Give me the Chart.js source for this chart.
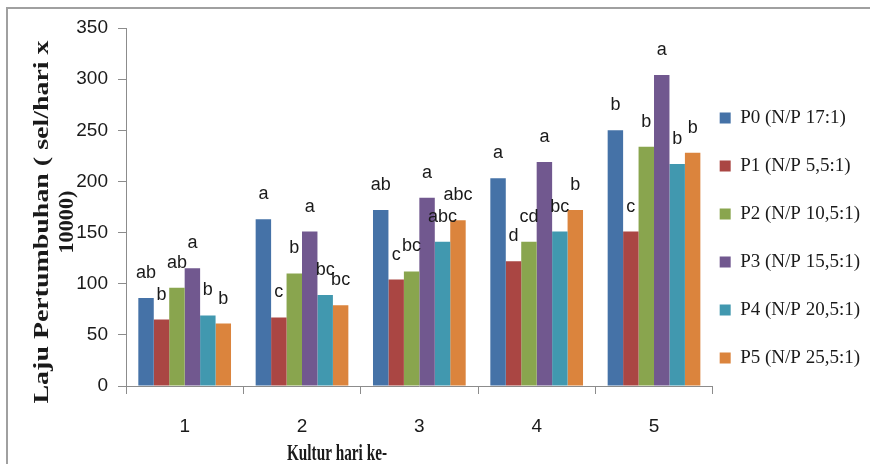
<!DOCTYPE html>
<html>
<head>
<meta charset="utf-8">
<script src="https://cdn.jsdelivr.net/npm/chart.js@4/dist/chart.umd.min.js"></script>
<style>
html,body{margin:0;padding:0;background:#fff;}
#wrap{width:870px;height:464px;position:relative;}
canvas{display:block;}
</style>
</head>
<body>
<div id="wrap"><canvas id="c" width="870" height="464"></canvas></div>
<script>
// ---- data ----
const categories = ['1', '2', '3', '4', '5'];
const seriesNames = ['P0 (N/P 17:1)', 'P1 (N/P 5,5:1)', 'P2 (N/P 10,5:1)', 'P3 (N/P 15,5:1)', 'P4 (N/P 20,5:1)', 'P5 (N/P 25,5:1)'];
const p0Values = [86, 163, 172, 203, 250];
const p1Values = [65, 67, 104, 122, 151];
const p2Values = [96, 110, 112, 141, 234];
const p3Values = [115, 151, 184, 219, 304];
const p4Values = [69, 89, 141, 151, 217];
const p5Values = [61, 79, 162, 172, 228];
const p0Letters = ['ab', 'a', 'ab', 'a', 'b'];
const p1Letters = ['b', 'c', 'c', 'd', 'c'];
const p2Letters = ['ab', 'b', 'bc', 'cd', 'b'];
const p3Letters = ['a', 'a', 'a', 'a', 'a'];
const p4Letters = ['b', 'bc', 'abc', 'bc', 'b'];
const p5Letters = ['b', 'bc', 'abc', 'b', 'b'];
const yTickValues = [0, 50, 100, 150, 200, 250, 300, 350];
const yTitleLines = ['Laju Pertumbuhan ( sel/hari x', '10000)'];
const xTitle = 'Kultur hari ke-';

// ---- styles ----
const colors = ['#4572A7', '#AA4643', '#89A54E', '#71588F', '#4198AF', '#DB843D'];
const seriesValues = [p0Values, p1Values, p2Values, p3Values, p4Values, p5Values];
const seriesLetters = [p0Letters, p1Letters, p2Letters, p3Letters, p4Letters, p5Letters];
const narrow = "'Liberation Sans Narrow', 'Liberation Sans', Arial, sans-serif";
const serif = "'Liberation Serif', 'Times New Roman', serif";
const axisColor = '#8c8c8c';
const textColor = '#1a1a1a';

const datasets = seriesNames.map((name, i) => ({
  label: name,
  data: seriesValues[i],
  backgroundColor: colors[i],
  borderWidth: 0,
  letters: seriesLetters[i],
  categoryPercentage: 0.79,
  barPercentage: 1.0
}));

const framePlugin = {
  id: 'frame',
  beforeDraw(chart) {
    const ctx = chart.ctx;
    ctx.save();
    ctx.fillStyle = '#ffffff';
    ctx.fillRect(0, 0, chart.width, chart.height);
    ctx.strokeStyle = '#a0a0a0';
    ctx.lineWidth = 2;
    ctx.beginPath();
    ctx.moveTo(7, chart.height);
    ctx.lineTo(7, 8);
    ctx.lineTo(chart.width, 8);
    ctx.stroke();
    ctx.restore();
  }
};

const lettersPlugin = {
  id: 'letters',
  afterDatasetsDraw(chart) {
    const ctx = chart.ctx;
    ctx.save();
    ctx.font = '18px ' + narrow;
    ctx.fillStyle = textColor;
    ctx.textAlign = 'center';
    ctx.textBaseline = 'alphabetic';
    chart.data.datasets.forEach((ds, di) => {
      const meta = chart.getDatasetMeta(di);
      meta.data.forEach((bar, j) => {
        ctx.fillText(ds.letters[j], bar.x, bar.y - 20);
      });
    });
    ctx.restore();
  }
};

const titlesPlugin = {
  id: 'titles',
  afterDraw(chart) {
    const ctx = chart.ctx;
    const ca = chart.chartArea;
    ctx.save();
    ctx.fillStyle = textColor;
    ctx.font = 'bold 22px ' + serif;
    ctx.textAlign = 'center';
    ctx.textBaseline = 'alphabetic';
    // y title (rotated, two lines)
    const yc = (ca.top + ca.bottom) / 2 + 15;
    const lineTargets = [363, 63];
    const lineX = [48, 73];
    yTitleLines.forEach((t, i) => {
      ctx.save();
      ctx.translate(lineX[i], yc);
      ctx.rotate(-Math.PI / 2);
      const w = ctx.measureText(t).width;
      ctx.scale(lineTargets[i] / w, 1);
      ctx.fillText(t, 0, 0);
      ctx.restore();
    });
    // x title
    ctx.save();
    ctx.font = 'bold 23px ' + serif;
    ctx.translate(337, 460);
    const wx = ctx.measureText(xTitle).width;
    ctx.scale(100 / wx, 1);
    ctx.fillText(xTitle, 0, 0);
    ctx.restore();
    ctx.restore();
  }
};

new Chart(document.getElementById('c'), {
  type: 'bar',
  data: { labels: categories, datasets: datasets },
  options: {
    responsive: false,
    animation: false,
    devicePixelRatio: 1,
    layout: { padding: { top: 28, left: 0, right: 0, bottom: -6 } },
    plugins: {
      tooltip: { enabled: false },
      legend: {
        position: 'right',
        align: 'center',
        labels: {
          boxWidth: 11,
          boxHeight: 11,
          padding: 7,
          color: textColor,
          font: { family: serif, size: 19, lineHeight: '41px' },
          generateLabels(chart) {
            const items = Chart.defaults.plugins.legend.labels.generateLabels(chart);
            items.forEach(it => { it.text = [it.text]; it.lineWidth = 0; });
            return items;
          }
        }
      }
    },
    scales: {
      x: {
        grid: { display: true, drawOnChartArea: false, color: axisColor, tickLength: 8, offset: true },
        border: { display: true, color: axisColor, width: 1 },
        ticks: { color: textColor, font: { family: narrow, size: 19 }, padding: 21 },
        afterFit(scale) { scale.height = 84; }
      },
      y: {
        min: 0,
        max: 350,
        grid: { display: true, drawOnChartArea: false, color: axisColor, tickLength: 8 },
        border: { display: true, color: axisColor, width: 1 },
        ticks: { color: textColor, font: { family: narrow, size: 19 }, padding: 10 },
        afterBuildTicks(scale) { scale.ticks = yTickValues.map(v => ({ value: v })); },
        afterFit(scale) { scale.width = 126; }
      }
    }
  },
  plugins: [framePlugin, lettersPlugin, titlesPlugin]
});
</script>
</body>
</html>
